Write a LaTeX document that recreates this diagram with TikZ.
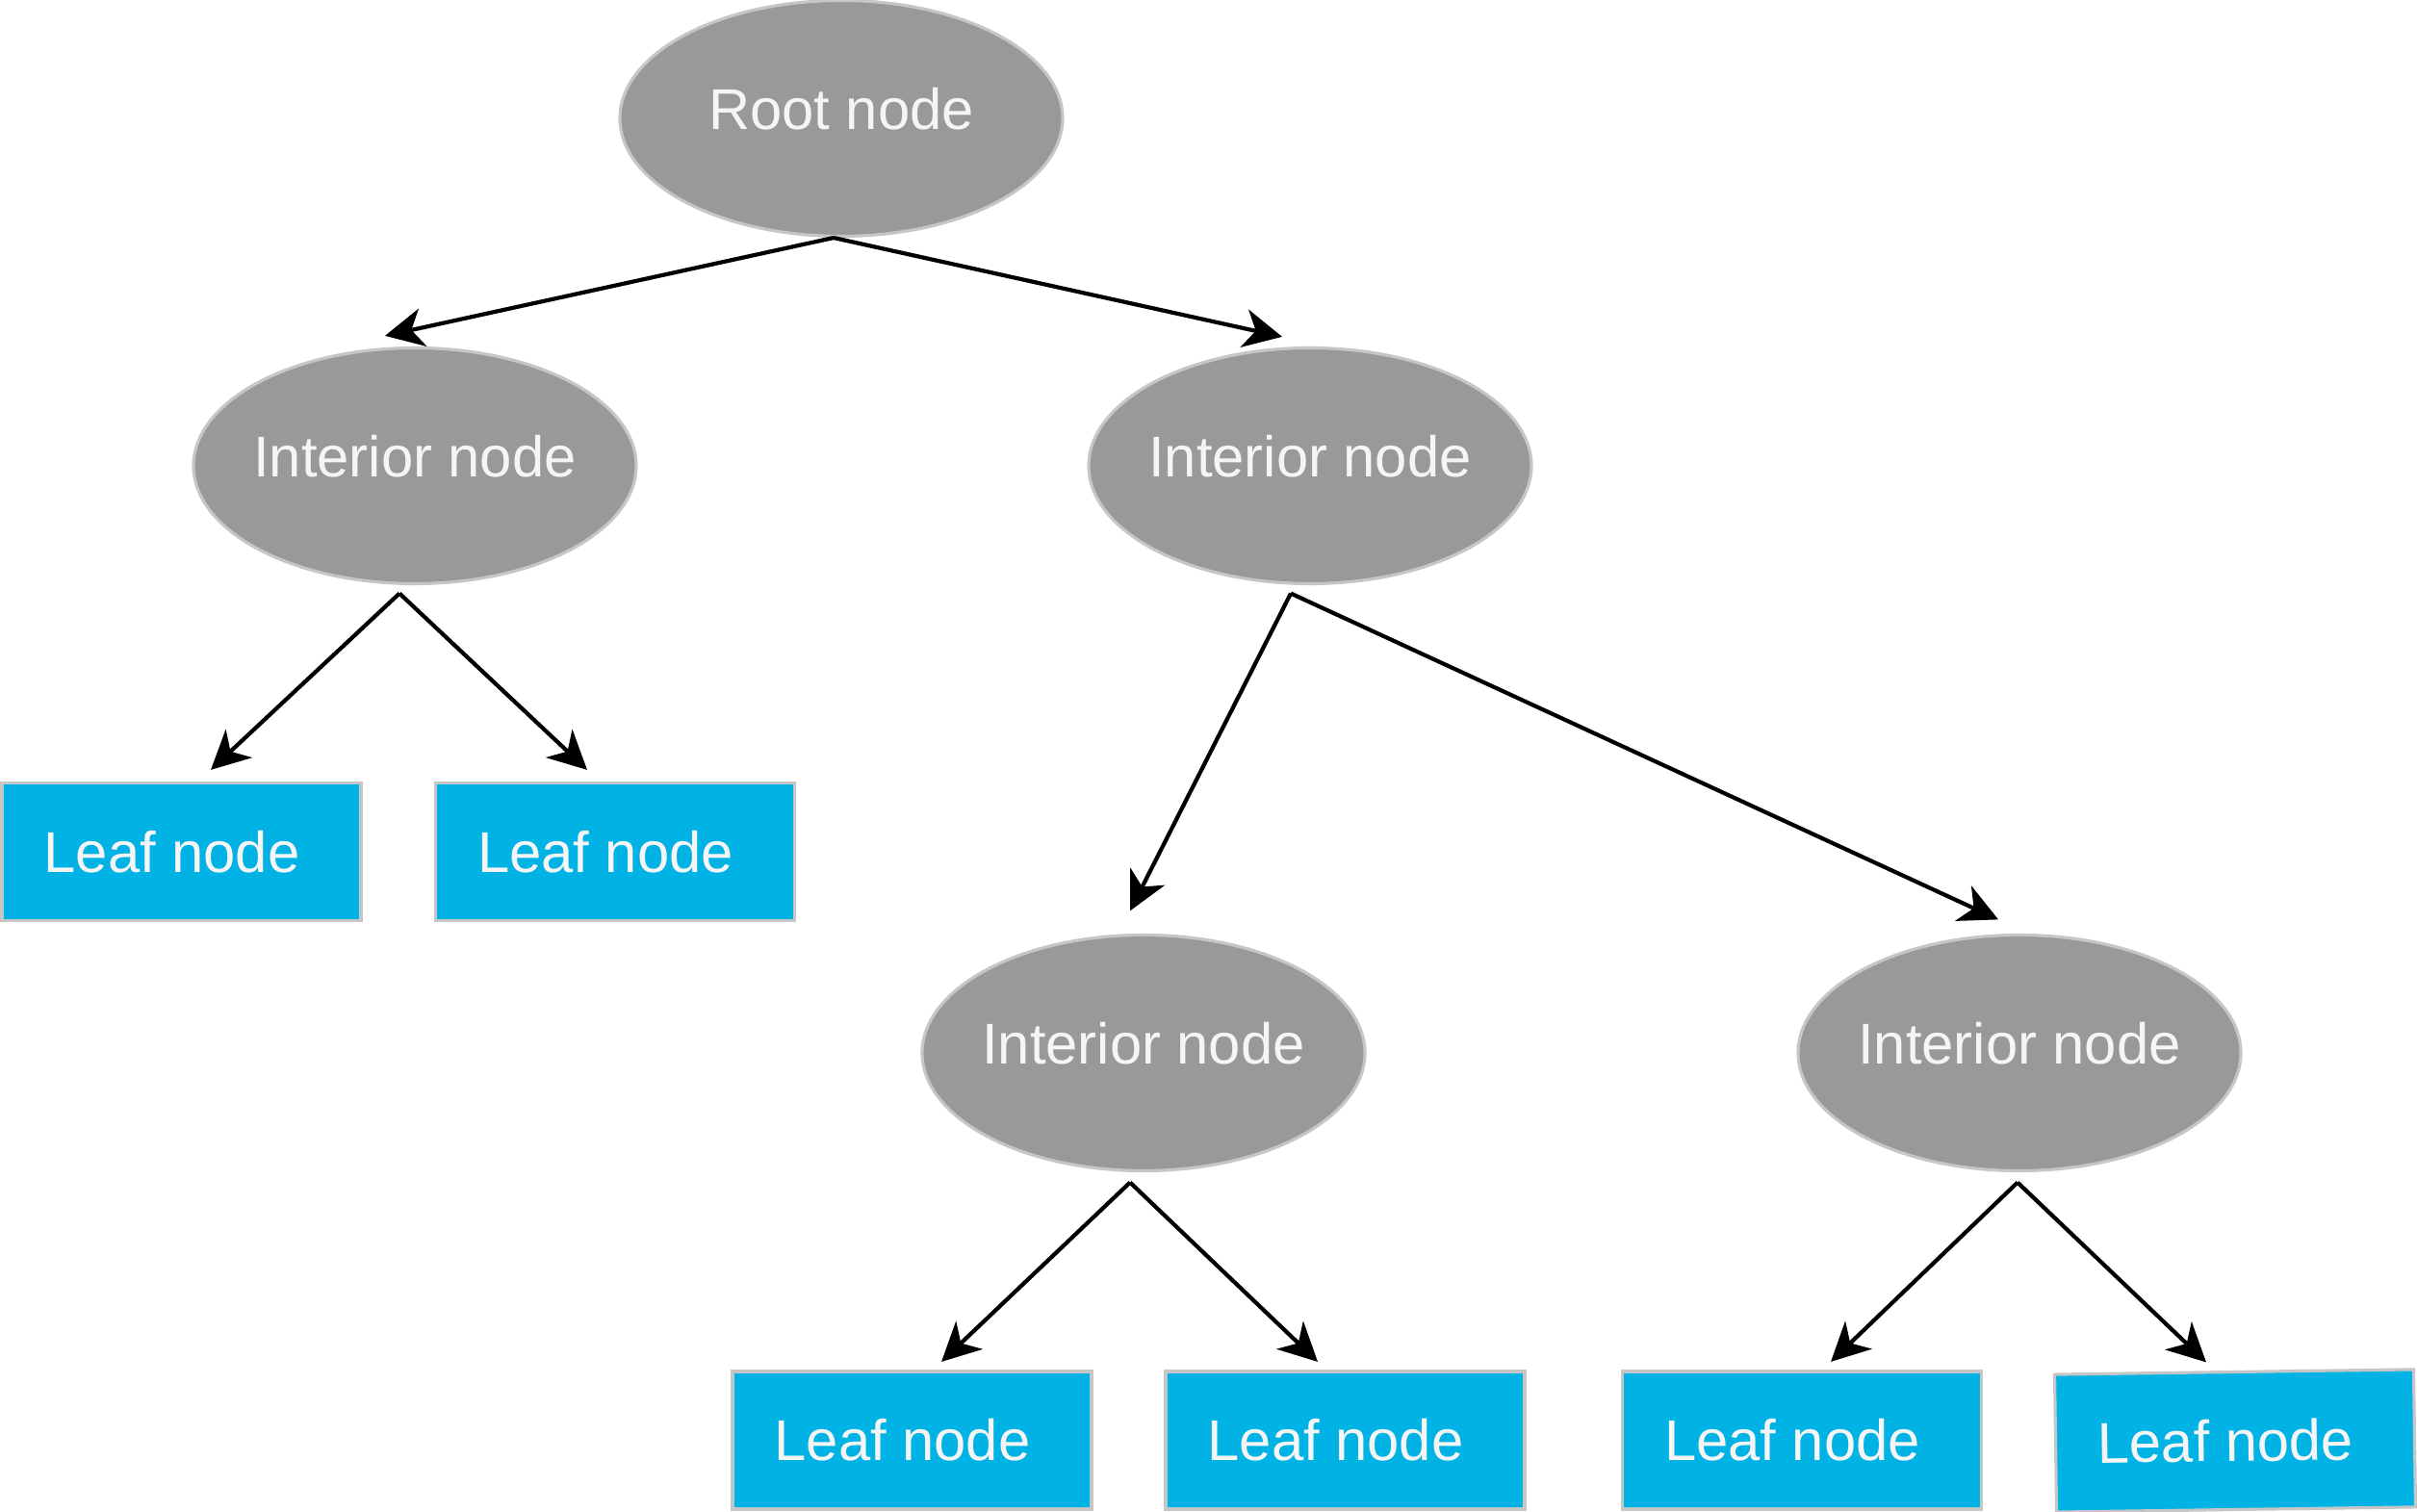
\documentclass[tikz,border=0pt]{standalone}
\usepackage{fontspec}
\setmainfont{Liberation Sans}
\usetikzlibrary{shapes.geometric,arrows.meta}
\definecolor{nodegray}{HTML}{999999}
\definecolor{rimgray}{HTML}{C6C6C6}
\definecolor{leafblue}{HTML}{00B3E4}
\definecolor{labelwhite}{HTML}{F5F5F5}
\tikzset{
	inode/.style={ellipse, draw=rimgray, line width=0.9pt, fill=nodegray, text=labelwhite,
		minimum width=4.6cm, minimum height=2.45cm, inner xsep=-4pt, text depth=5.6pt,
		font=\fontsize{17}{20}\selectfont},
	leaf/.style={rectangle, draw=rimgray, line width=0.9pt, fill=leafblue, text=labelwhite,
		minimum width=3.73cm, minimum height=1.43cm, font=\fontsize{17}{20}\selectfont},
	branch/.style={line width=1.2pt, -{Stealth[length=0.4cm, width=0.4cm, inset=0.12cm]}}
}

\begin{document}
\begin{tikzpicture}
			%%%%% START %%%%%
			\useasboundingbox (0, 0) rectangle (25.11, 15.71);
			
			\node[inode] (root) at (8.74, 14.48) {Root node};
			
			\node[inode] (il) at (4.31, 10.87) {Interior node};
			\node[inode] (ir) at (13.61, 10.87) {Interior node};
			
			\node[leaf] (la) at (1.885, 6.86) {\hspace*{-0.2cm}Leaf node};
			\node[leaf] (lb) at (6.39, 6.86) {\hspace*{-0.2cm}Leaf node};
			
			\node[inode] (iml) at (11.88, 4.77) {Interior node};
			\node[inode] (imr) at (20.98, 4.77) {Interior node};
			
			\node[leaf] (lc) at (9.475, 0.745) {\hspace*{-0.2cm}Leaf node};
			\node[leaf] (ld) at (13.975, 0.745) {\hspace*{-0.2cm}Leaf node};
			\node[leaf] (le) at (18.72, 0.745) {\hspace*{-0.2cm}Leaf node};
			\node[leaf, rotate=0.8] (lf) at (23.22, 0.74) {\hspace*{-0.2cm}Leaf node};
			
			\draw[branch] ([xshift=-0.08cm]root.south) -- ([xshift=-0.31cm, yshift=0.11cm]il.north);
			\draw[branch] ([xshift=-0.08cm]root.south) -- ([xshift=-0.29cm, yshift=0.10cm]ir.north);
			
			\draw[branch] ([xshift=-0.16cm, yshift=-0.085cm]il.south) -- ([xshift=0.305cm, yshift=0.12cm]la.north);
			\draw[branch] ([xshift=-0.16cm, yshift=-0.085cm]il.south) -- ([xshift=-0.29cm, yshift=0.12cm]lb.north);
			
			\draw[branch] ([xshift=-0.20cm, yshift=-0.085cm]ir.south) -- ([xshift=-0.14cm, yshift=0.235cm]iml.north);
			\draw[branch] ([xshift=-0.20cm, yshift=-0.085cm]ir.south) -- ([xshift=-0.22cm, yshift=0.145cm]imr.north);
			
			\draw[branch] ([xshift=-0.14cm, yshift=-0.105cm]iml.south) -- ([xshift=0.305cm, yshift=0.085cm]lc.north);
			\draw[branch] ([xshift=-0.14cm, yshift=-0.105cm]iml.south) -- ([xshift=-0.285cm, yshift=0.085cm]ld.north);
			
			\draw[branch] ([xshift=-0.02cm, yshift=-0.105cm]imr.south) -- ([xshift=0.30cm, yshift=0.085cm]le.north);
			\draw[branch] ([xshift=-0.02cm, yshift=-0.105cm]imr.south) -- ([xshift=-0.29cm, yshift=0.085cm]lf.north);
			
			%%%%% END %%%%%
		\end{tikzpicture}
\end{document}
